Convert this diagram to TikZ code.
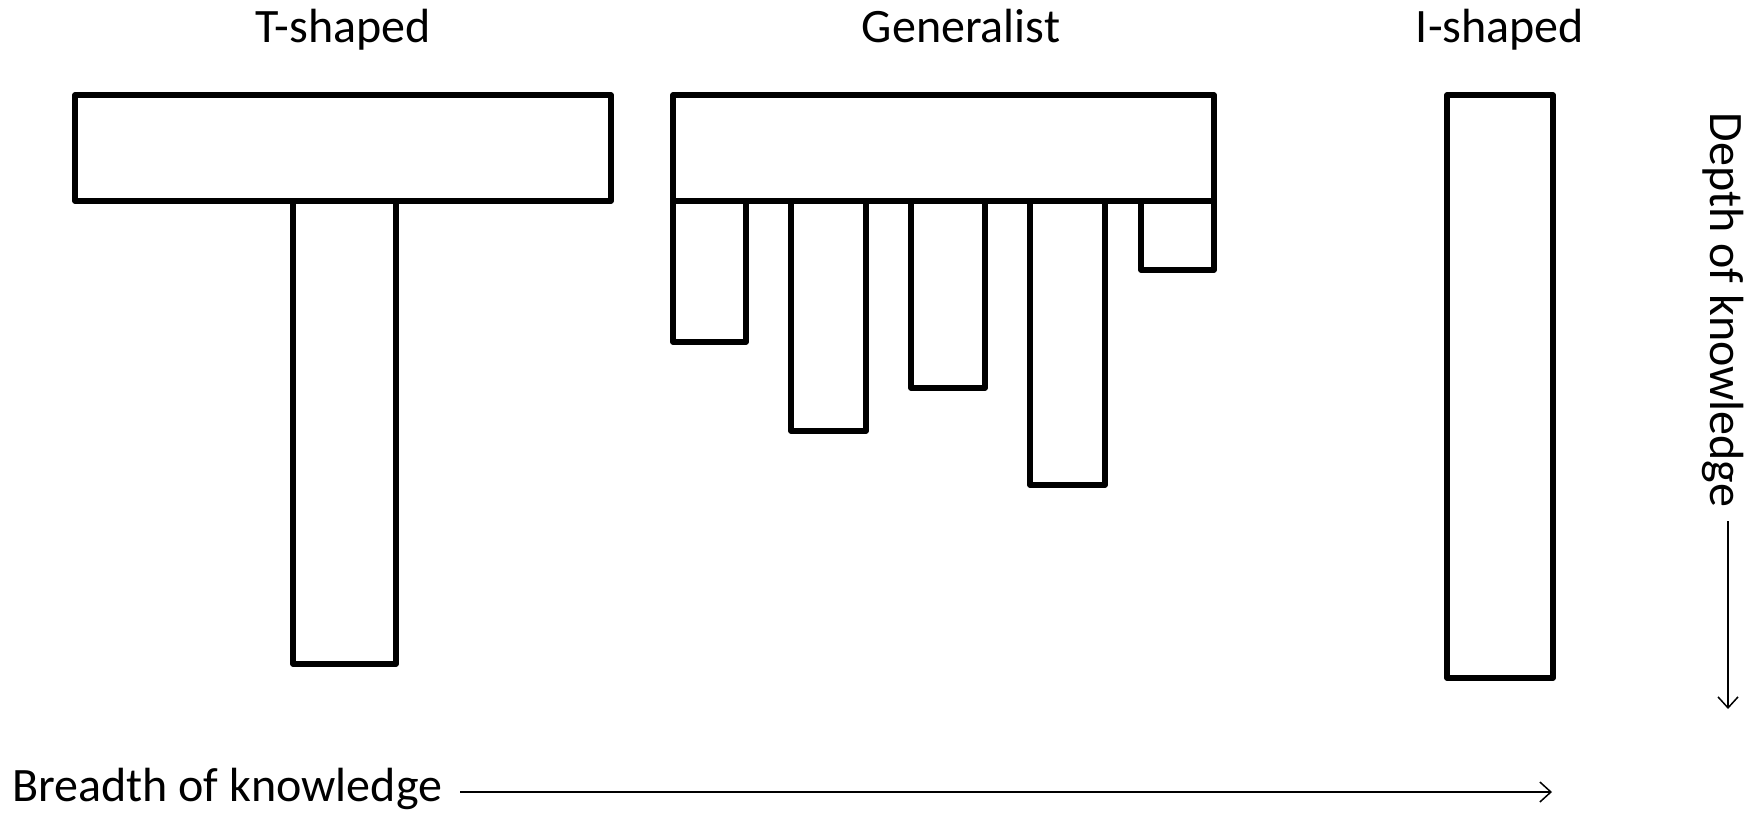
\documentclass[tikz,border=0pt]{standalone}
\usepackage{fontspec}
\setmainfont{Carlito}
\usetikzlibrary{arrows.meta}
\begin{document}
\begin{tikzpicture}[x=1pt,y=-1pt,
  bar/.style={draw=black,line width=5.5pt,line join=round,line cap=round,fill=white},
  axis/.style={line width=1.5pt,-{Straight Barb[length=11pt,width=20pt,line width=1.5pt]}},
  lbl/.style={font=\fontsize{48}{56}\selectfont,inner sep=0pt}]
\useasboundingbox[fill=white] (0,0) rectangle (1759,812);

% column titles
\node[lbl,anchor=base] (tTitle) at (343,42) {T-shaped};
\node[lbl,anchor=base] (gTitle) at (961,42) {Generalist};
\node[lbl,anchor=base] (iTitle) at (1500,42) {I-shaped};

% T-shaped: broad bar with one deep stem
\draw[bar] (293,201) rectangle (396,664);
\draw[bar] (75,95) rectangle (611,201);

% Generalist: broad bar with several shallow stems
\draw[bar] (673,201) rectangle (746,342);
\draw[bar] (791,201) rectangle (866,431);
\draw[bar] (911,201) rectangle (985,388);
\draw[bar] (1030,201) rectangle (1105,485);
\draw[bar] (1141,201) rectangle (1214,270);
\draw[bar] (673,95) rectangle (1214,201);

% I-shaped: single deep bar
\draw[bar] (1447,95) rectangle (1553,678);

% axes
\node[lbl,anchor=base west] (breadth) at (12,801) {Breadth of knowledge};
\coordinate (breadthEnd) at (1552,792);
\draw[axis] (breadth.east |- breadthEnd) ++(18,0) -- (breadthEnd);

\node[lbl,anchor=base,rotate=-90] (depth) at (1710,310) {Depth of knowledge};
\coordinate (depthEnd) at (1728,709);
\draw[axis] (depthEnd |- depth.east) ++(0,14) -- (depthEnd);
\end{tikzpicture}
\end{document}
